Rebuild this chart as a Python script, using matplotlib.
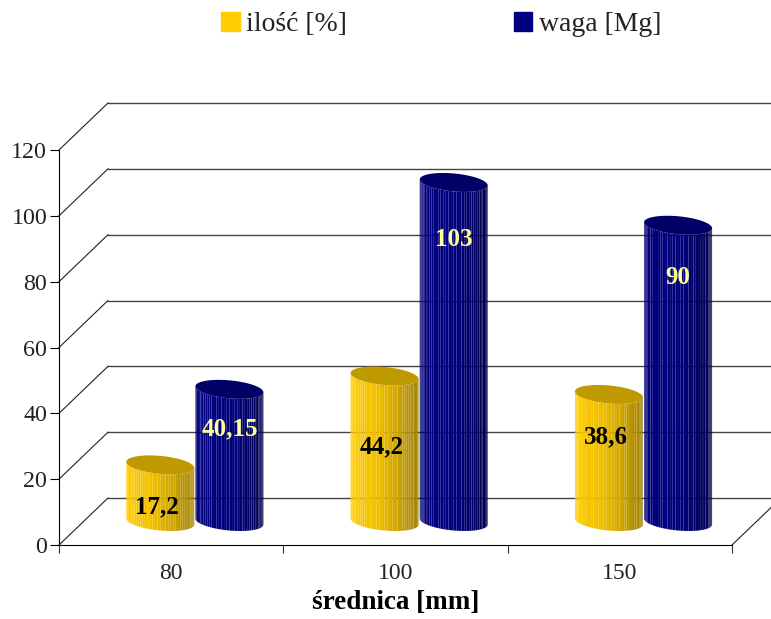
import matplotlib
matplotlib.use("Agg")
import matplotlib.pyplot as plt
from matplotlib.patches import Patch
import numpy as np

# datos
categorias = ["80", "100", "150"]
ilosc = [17.2, 44.2, 38.6]
waga = [40.15, 103, 90]
etiquetas_ilosc = ["17,2", "44,2", "38,6"]
etiquetas_waga = ["40,15", "103", "90"]
y_ticks = [0, 20, 40, 60, 80, 100, 120]

# altura de las etiquetas en unidades del eje
y_etq_ilosc = [11.5, 29.8, 32.8]
y_etq_waga = [35.3, 92.7, 81.2]

AMARILLO = "#FFCC00"
AZUL = "#000080"
W, H = 771, 619
x0, x1, y0, y1 = 59, 732, 545, 150  # plano frontal en pixeles

plt.rcParams["font.family"] = ["Liberation Serif", "DejaVu Serif"]

fig = plt.figure(figsize=(W / 100, H / 100), dpi=100)
ax = fig.add_axes([x0 / W, 1 - y0 / H, (x1 - x0) / W, (y0 - y1) / H])
ax.set_xlim(0, 3)
ax.set_ylim(0, 120)

px_x = (x1 - x0) / 3
px_y = (y0 - y1) / 120
dx = 49 / px_x  # profundidad
dy = 47 / px_y

# paredes
for v in y_ticks:
    ax.plot([dx, 3 + dx], [v + dy, v + dy], color="#444444", lw=1.0, clip_on=False, zorder=1)
    ax.plot([0, dx], [v, v + dy], color="#222222", lw=0.8, clip_on=False, zorder=1)
ax.plot([3, 3 + dx], [0, dy], color="#222222", lw=0.8, clip_on=False, zorder=1)

ancho = 68 / px_x
a_tilt = 3 / px_y
b = 9 / px_y


def oscurecer(color, f):
    r, g, b_ = matplotlib.colors.to_rgb(color)
    return (r * f, g * f, b_ * f)


def cilindro(centro, valor, color, tapa, zorder):
    base = dy / 2
    tope = valor + dy / 2
    th = np.linspace(np.pi, 0, 41)
    u = -np.cos(th)
    xs = centro + u * ancho / 2
    frente = -a_tilt * u - b * np.sqrt(1 - u**2)
    for i in range(len(u) - 1):
        f = np.interp((u[i] + u[i + 1]) / 2, [-1, -0.2, 0.4, 1], [1.0, 0.93, 0.8, 0.62])
        if color == AZUL:
            f = np.interp((u[i] + u[i + 1]) / 2, [-1, -0.5, 0.2, 1], [0.95, 1.0, 0.95, 0.6])
        ax.fill([xs[i], xs[i + 1], xs[i + 1], xs[i]],
                [base + frente[i], base + frente[i + 1], tope + frente[i + 1], tope + frente[i]],
                color=oscurecer(color, f), lw=0, clip_on=False, zorder=zorder)
    t = np.linspace(0, 2 * np.pi, 120)
    ut = np.cos(t)
    ax.fill(centro + ut * ancho / 2, tope - a_tilt * ut + b * np.sin(t),
            color=tapa, lw=0, clip_on=False, zorder=zorder + 0.1)


for i in range(len(categorias)):
    c = i + 0.5 + 0.103
    cilindro(c - ancho / 2, ilosc[i], AMARILLO, "#BF9900", 3)
    cilindro(c + ancho / 2 + 0.005, waga[i], AZUL, "#000066", 4)
    ax.text(c - ancho / 2 - 0.015, y_etq_ilosc[i], etiquetas_ilosc[i], ha="center", va="center",
            fontsize=18, fontweight="bold", color="black", zorder=6)
    ax.text(c + ancho / 2 + 0.005, y_etq_waga[i], etiquetas_waga[i], ha="center", va="center",
            fontsize=18, fontweight="bold", color="#FFFF99", zorder=6)

# ejes
ax.spines["top"].set_visible(False)
ax.spines["right"].set_visible(False)
ax.set_yticks(y_ticks)
ax.set_xticks([0, 1, 2, 3])
ax.set_xticklabels([])
ax.set_xticks([0.5, 1.5, 2.5], minor=True)
ax.set_xticklabels(categorias, minor=True)
ax.tick_params(axis="x", which="minor", length=0, labelsize=17, pad=13, labelcolor="#222222")
ax.tick_params(axis="x", which="major", length=6, color="#333333", width=0.8)
ax.tick_params(axis="y", length=6.5, pad=2, labelsize=17.3, labelcolor="#222222", width=0.8)
ax.set_xlabel("średnica [mm]", fontsize=19.5, fontweight="bold", color="black", labelpad=4)
ax.patch.set_alpha(0)

handles = [Patch(color=AMARILLO, label="ilość [%]"), Patch(color=AZUL, label="waga [Mg]")]
fig.legend(handles=handles, loc="upper left", bbox_to_anchor=(221 / W, 1 - 12 / H), ncol=2,
           frameon=False, fontsize=20, handlelength=0.68, handleheight=0.68, handletextpad=0.22,
           columnspacing=6.0, borderpad=0, borderaxespad=0, labelcolor="#222222")

fig.savefig("out.png", dpi=100)
